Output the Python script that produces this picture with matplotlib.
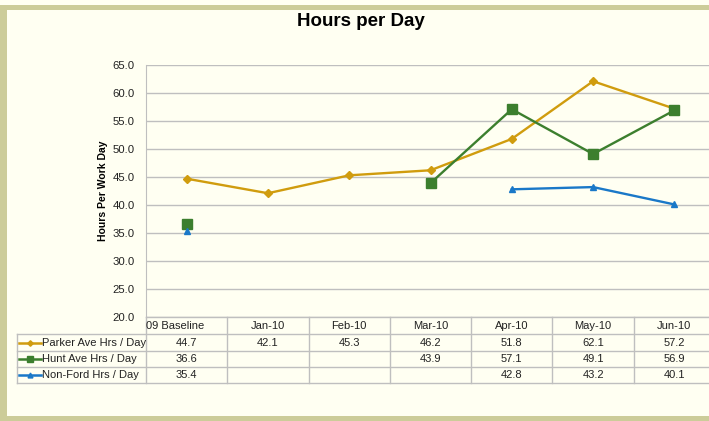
import numpy as np
import matplotlib
matplotlib.use("Agg")
import matplotlib.pyplot as plt
from matplotlib import transforms
from matplotlib.lines import Line2D
from matplotlib.patches import Rectangle

plt.rcParams['font.family'] = ['Liberation Sans', 'DejaVu Sans']

categories = ["09 Baseline", "Jan-10", "Feb-10", "Mar-10", "Apr-10", "May-10", "Jun-10"]
parker = [44.7, 42.1, 45.3, 46.2, 51.8, 62.1, 57.2]
hunt = [36.6, None, None, 43.9, 57.1, 49.1, 56.9]
nonford = [35.4, None, None, None, 42.8, 43.2, 40.1]
series_names = ["Parker Ave Hrs / Day", "Hunt Ave Hrs / Day", "Non-Ford Hrs / Day"]
series_colors = ["#D09C0E", "#3C7F2E", "#1A78C8"]
series_markers = ["D", "s", "^"]
series_msize = [4, 6.5, 5]
yticks = [20, 25, 30, 35, 40, 45, 50, 55, 60, 65]

W, H = 709, 421
BG = "#FFFFF2"
BORDER = "#CCCC99"
GRID = "#BFBFBF"

fig = plt.figure(figsize=(W / 100, H / 100), dpi=100, facecolor=BG)

# overlay axes in pixel coordinates
ov = fig.add_axes([0, 0, 1, 1], zorder=0)
ov.set_xlim(0, W)
ov.set_ylim(H, 0)
ov.axis("off")
ov.set_facecolor("none")
ov.add_patch(Rectangle((0, 5), W, 5, color=BORDER, lw=0))
ov.add_patch(Rectangle((0, 5), 7, H, color=BORDER, lw=0))
ov.add_patch(Rectangle((0, 416), W, 5, color=BORDER, lw=0))

left, right, top, bottom = 146, 715, 65, 317
ax = fig.add_axes([left / W, (H - bottom) / H, (right - left) / W, (bottom - top) / H], zorder=2)
ax.set_facecolor("none")
x = np.arange(len(categories))
ax.set_xlim(-0.5, len(categories) - 0.5)
ax.set_ylim(20, 65)
ax.set_yticks(yticks)
ax.set_yticklabels([f"{v:.1f}" for v in yticks], fontsize=8.2, color="#222222")
ax.set_xticks([])
ax.tick_params(axis="y", length=0, pad=8)
for s in ["top", "right", "bottom"]:
    ax.spines[s].set_visible(False)
ax.spines["left"].set_color(GRID)
ax.yaxis.grid(True, color=GRID, lw=1)
ax.set_axisbelow(True)

all_series = [parker, hunt, nonford]
for vals, c, m, ms in zip(all_series, series_colors, series_markers, series_msize):
    y = np.array([np.nan if v is None else v for v in vals], dtype=float)
    ax.plot(x, y, color=c, lw=1.7, marker=m, markersize=ms, markeredgecolor=c,
            markerfacecolor=c, clip_on=False)

ax.set_ylabel("Hours Per Work Day", fontsize=7.5, fontweight="bold", labelpad=3)

fig.text(361 / W, 1 - 22 / H, "Hours per Day", ha="center", va="center",
         fontsize=13.5, fontweight="bold")

# table
bt = transforms.blended_transform_factory(ax.transData, ov.transData)
row_y = [317, 334, 351, 367, 383]
lkw = dict(color=GRID, lw=1, clip_on=False)
ov.plot([left, W], [row_y[0], row_y[0]], **lkw)
for ry in row_y[1:]:
    ov.plot([17, W], [ry, ry], **lkw)
ov.plot([17, 17], [row_y[1], row_y[-1]], **lkw)
for i in range(len(categories) + 1):
    xb = i - 0.5
    ov.plot([xb, xb], [row_y[0], row_y[-1]], transform=bt, **lkw)

for i, cat in enumerate(categories):
    if i == 0:
        ov.text(left, 326, cat, fontsize=8, ha="left", va="center", color="#222222")
    else:
        ov.text(i, 326, cat, transform=bt, fontsize=8, ha="center", va="center", color="#222222")

for r, (vals, name, c, m, ms) in enumerate(zip(all_series, series_names, series_colors,
                                                  series_markers, series_msize)):
    cy = (row_y[r + 1] + row_y[r + 2]) / 2
    for i, v in enumerate(vals):
        if v is not None:
            ov.text(i, cy, f"{v:.1f}", transform=bt, fontsize=8, ha="center", va="center",
                    color="#222222")
    ov.add_line(Line2D([19, 41], [cy, cy], color=c, lw=1.8))
    ov.add_line(Line2D([30], [cy], color=c, marker=m, markersize=ms * 0.7,
                       markeredgecolor=c, markerfacecolor=c))
    ov.text(42, cy, name, fontsize=8, ha="left", va="center", color="#222222")

fig.savefig("out.png", dpi=100, facecolor=BG)
